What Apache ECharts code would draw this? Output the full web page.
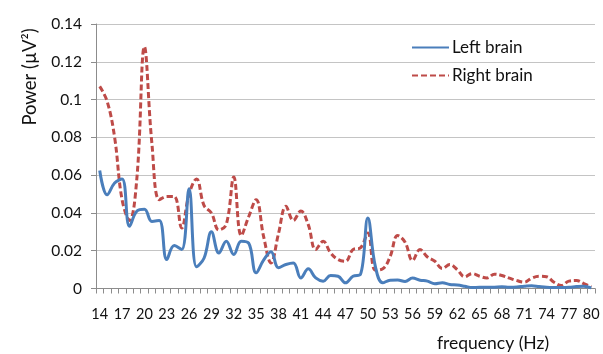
<!DOCTYPE html>
<html>
<head>
<meta charset="utf-8">
<script src="https://cdn.jsdelivr.net/npm/echarts@6/dist/echarts.min.js"></script>
<style>
html,body{margin:0;padding:0;background:#fff;}
#chart{width:603px;height:354px;}
</style>
</head>
<body>
<div id="chart"></div>
<script>
var frequencies = ['14','15','16','17','18','19','20','21','22','23','24','25','26','27','28','29','30','31','32','33','34','35','36','37','38','39','40','41','42','43','44','45','46','47','48','49','50','51','52','53','54','55','56','57','58','59','60','61','62','63','64','65','66','67','68','69','70','71','72','73','74','75','76','77','78','79','80'];

var leftBrain = [0.0625,0.0496,0.0558,0.058,0.033,0.041,0.042,0.0355,0.036,0.0153,0.0227,0.0206,0.0528,0.0115,0.016,0.030,0.0188,0.025,0.018,0.025,0.024,0.0083,0.015,0.0195,0.011,0.0127,0.0135,0.0056,0.0104,0.0056,0.0039,0.0069,0.0065,0.003,0.0065,0.0074,0.0373,0.0118,0.003,0.0044,0.0045,0.0037,0.0055,0.0044,0.0039,0.0025,0.003,0.0021,0.0018,0.0012,0.0005,0.0006,0.0006,0.0007,0.0009,0.0007,0.0008,0.0012,0.0015,0.001,0.0006,0.0005,0.0005,0.0006,0.001,0.0012,0.0003];

var rightBrain = [0.107,0.099,0.080,0.047,0.036,0.059,0.128,0.077,0.047,0.0487,0.0487,0.032,0.050,0.058,0.044,0.040,0.031,0.034,0.059,0.028,0.038,0.047,0.0276,0.0135,0.029,0.0435,0.036,0.041,0.0338,0.0206,0.025,0.0188,0.0153,0.0144,0.0206,0.0215,0.0294,0.0097,0.0104,0.017,0.028,0.0245,0.0148,0.0206,0.0167,0.0144,0.0106,0.0127,0.010,0.0062,0.0079,0.0065,0.0056,0.0076,0.0069,0.0055,0.0042,0.0033,0.0055,0.0065,0.0062,0.0033,0.0016,0.0039,0.0042,0.0026,0.0009];

var yTicks = [0, 0.02, 0.04, 0.06, 0.08, 0.1, 0.12, 0.14];
var seriesNames = ['Left brain', 'Right brain'];

var chart = echarts.init(document.getElementById('chart'), null, {renderer: 'canvas'});
var FONT = 'Lato, "Open Sans", sans-serif';
chart.setOption({
  animation: false,
  backgroundColor: '#ffffff',
  grid: {left: 96, right: 8, top: 24, bottom: 65.5, containLabel: false},
  legend: {
    orient: 'vertical',
    left: 406,
    top: 34,
    itemWidth: 37,
    itemHeight: 14,
    itemGap: 11,
    itemStyle: {opacity: 0},
    textStyle: {fontFamily: FONT, fontSize: 17, color: '#111', padding: [0, 0, 0, -2]},
    data: seriesNames
  },
  xAxis: {
    type: 'category',
    data: frequencies,
    boundaryGap: true,
    axisLine: {lineStyle: {color: '#8c8c8c', width: 1}},
    axisTick: {show: true, interval: 0, length: 5, lineStyle: {color: '#8c8c8c'}},
    axisLabel: {interval: 2, margin: 18, fontFamily: FONT, fontSize: 14.5, color: '#111'},
    splitLine: {show: false}
  },
  yAxis: {
    type: 'value',
    min: yTicks[0],
    max: yTicks[yTicks.length - 1],
    interval: 0.02,
    axisLine: {show: true, lineStyle: {color: '#8c8c8c', width: 1}},
    axisTick: {show: true, length: 5, lineStyle: {color: '#8c8c8c'}},
    axisLabel: {margin: 14, fontFamily: FONT, fontSize: 15.5, color: '#111',
      formatter: function (v) { return String(Math.round(v * 100) / 100); }},
    splitLine: {show: true, lineStyle: {color: '#c4c4c4', width: 1}}
  },
  graphic: [
    {type: 'text', x: 30, y: 77, rotation: Math.PI / 2,
      style: {text: 'Power (\u00b5V\u00b2)', fontFamily: FONT, fontSize: 18.5, fill: '#111', align: 'center', verticalAlign: 'middle'}},
    {type: 'text', x: 493, y: 343,
      style: {text: 'frequency (Hz)', fontFamily: FONT, fontSize: 17.5, fill: '#111', align: 'center', verticalAlign: 'middle'}}
  ],
  series: [
    {name: seriesNames[0], type: 'line', data: leftBrain, smooth: 0.4, symbol: 'none',
      lineStyle: {color: '#4a7ebb', width: 3}, itemStyle: {color: '#4a7ebb'}, z: 3},
    {name: seriesNames[1], type: 'line', data: rightBrain, smooth: 0.4, symbol: 'none',
      lineStyle: {color: '#be4b48', width: 3, type: [6, 3]}, itemStyle: {color: '#be4b48'}, z: 2}
  ]
});
</script>
</body>
</html>
